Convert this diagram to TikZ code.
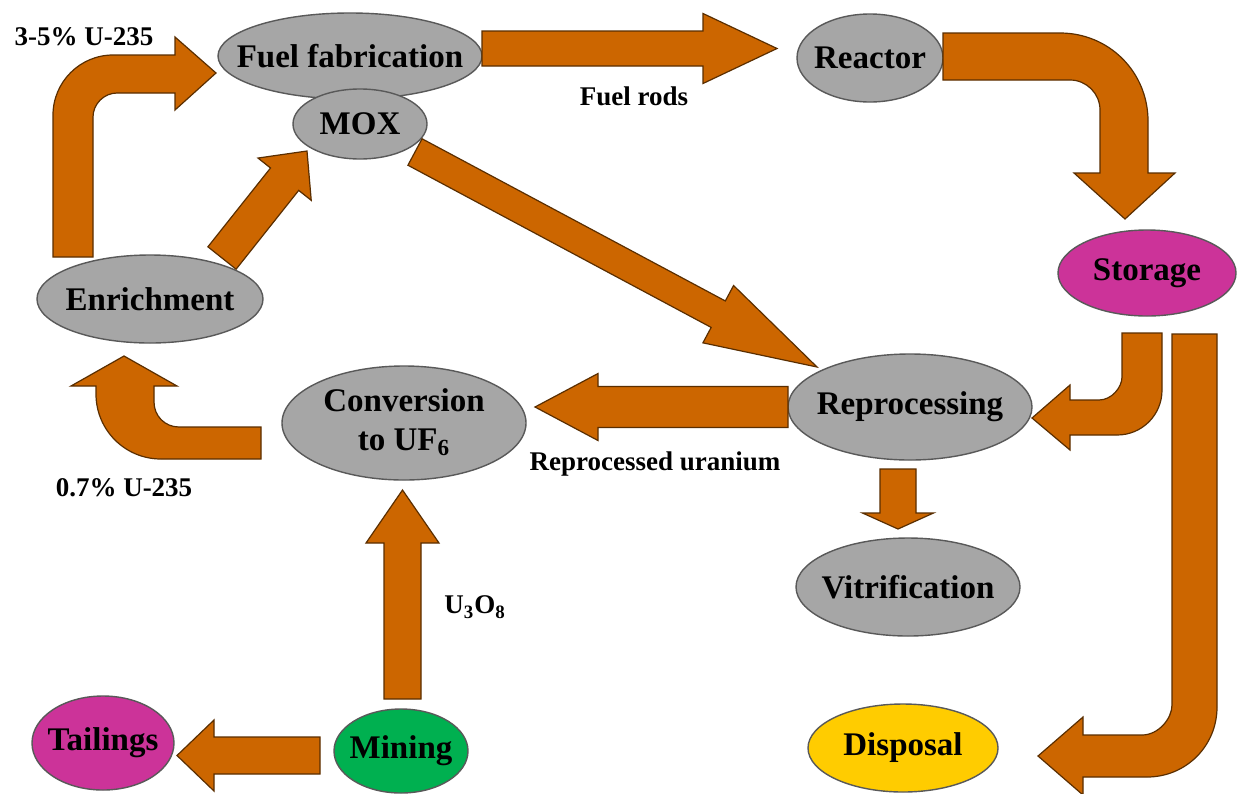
\documentclass[tikz,border=0pt]{standalone}
\usepackage{fontspec}
\setmainfont{Liberation Serif}
\usetikzlibrary{calc,shapes.geometric}
\definecolor{arrowfill}{HTML}{CC6600}
\definecolor{arrowline}{HTML}{5A2E00}
\definecolor{greyfill}{HTML}{A6A6A6}
\definecolor{greyline}{HTML}{595959}
\definecolor{magentafill}{HTML}{CC3399}
\definecolor{greenfill}{HTML}{00B050}
\definecolor{yellowfill}{HTML}{FFCC00}
\tikzset{
  stage/.style={ellipse, draw=greyline, line width=0.7pt, inner sep=0pt,
    font=\bfseries\fontsize{16.5}{19.5}\selectfont, text=black},
  arrowstyle/.style={fill=arrowfill, draw=arrowline, line width=0.6pt, line join=miter},
  flowlabel/.style={font=\bfseries\fontsize{13.5}{16}\selectfont, inner sep=0pt},
}
\newcommand\zw[1]{\makebox[0pt][c]{#1}}
% #1 tail, #2 tip, #3 half body width, #4 half head width, #5 head length
\newcommand\blockarrow[5]{%
  \path ($(#2)!#5!(#1)$) coordinate (ba-h);
  \draw[arrowstyle] ($(#1)!#3!90:(#2)$) -- ($(ba-h)!#3!-90:(#1)$) -- ($(ba-h)!#4!-90:(#1)$)
    -- (#2) -- ($(ba-h)!#4!90:(#1)$) -- ($(ba-h)!#3!90:(#1)$) -- ($(#1)!#3!-90:(#2)$) -- cycle;
}
\begin{document}
\begin{tikzpicture}[x=0.5pt,y=-0.5pt]
\path[use as bounding box, fill=white] (0,0) rectangle (1240,793);

% nodes
\node[stage, fill=greyfill, minimum width=132pt, minimum height=43pt] (fab) at (350,56) {\zw{Fuel fabrication}};
\node[stage, fill=greyfill, minimum width=67pt, minimum height=35pt] (mox) at (360,124) {\zw{MOX}};
\node[stage, fill=greyfill, minimum width=73pt, minimum height=44pt] (reactor) at (870,58) {\zw{Reactor}};
\node[stage, fill=magentafill, minimum width=89pt, minimum height=43pt] (storage) at (1147,273) {\zw{Storage}};
\node[stage, fill=greyfill, minimum width=122pt, minimum height=53pt] (repro) at (910,407) {\zw{Reprocessing}};
\node[stage, fill=greyfill, minimum width=112pt, minimum height=49pt] (vitri) at (908,587) {\zw{Vitrification}};
\node[stage, fill=yellowfill, minimum width=95pt, minimum height=44pt] (disposal) at (903,748) {\zw{Disposal}};
\node[stage, fill=greyfill, minimum width=122pt, minimum height=57pt] (conv) at (404,423)
  {\zw{\begin{tabular}{@{}c@{}}Conversion\\to UF\textsubscript{6}\end{tabular}}};
\node[stage, fill=greyfill, minimum width=113pt, minimum height=44pt] (enrich) at (150,299) {\zw{Enrichment}};
\node[stage, fill=greenfill, minimum width=67pt, minimum height=42pt] (mining) at (401,751) {\zw{Mining}};
\node[stage, fill=magentafill, minimum width=71pt, minimum height=47pt] (tailings) at (103,743) {\zw{Tailings}};

% straight block arrows
\coordinate (fr-s) at (482,48.5);  \coordinate (fr-e) at (777,48.5);
\coordinate (em-s) at (222,258);   \coordinate (em-e) at (307,151);
\coordinate (mr-s) at (415,152);   \coordinate (mr-e) at (817,367);
\coordinate (rc-s) at (788,407);   \coordinate (rc-e) at (535,407);
\coordinate (rv-s) at (898,469);   \coordinate (rv-e) at (898,529);
\coordinate (mc-s) at (402.5,699); \coordinate (mc-e) at (402.5,490);
\coordinate (mt-s) at (320,755.5); \coordinate (mt-e) at (177,755.5);
\blockarrow{fr-s}{fr-e}{8.75pt}{17.5pt}{37pt}
\blockarrow{em-s}{em-e}{9pt}{17pt}{18pt}
\blockarrow{mr-s}{mr-e}{7.5pt}{16.25pt}{56pt}
\blockarrow{rc-s}{rc-e}{10.25pt}{16.75pt}{31.5pt}
\blockarrow{rv-s}{rv-e}{9pt}{17.75pt}{8pt}
\blockarrow{mc-s}{mc-e}{9.25pt}{18.25pt}{26.5pt}
\blockarrow{mt-s}{mt-e}{9.25pt}{17.75pt}{18.5pt}

% bent block arrows
% Enrichment -> Fuel fabrication
\draw[arrowstyle] (53,257) -- (53,115) .. controls (53,82) and (80,55) .. (113,55) -- (175,55) -- (175,37)
  -- (216,73) -- (175,110) -- (175,93) -- (117,93) .. controls (104,93) and (93,104) .. (93,117) -- (93,257) -- cycle;
% Reactor -> Storage
\draw[arrowstyle] (943,33) -- (1060,33) .. controls (1109,33) and (1148,72) .. (1148,121) -- (1148,173) -- (1175,173)
  -- (1125,219) -- (1074,173) -- (1100,173) -- (1100,110) .. controls (1100,93.5) and (1086.5,80) .. (1070,80) -- (943,80) -- cycle;
% Storage -> Reprocessing
\draw[arrowstyle] (1122,333) -- (1162,333) -- (1162,390) .. controls (1162,415) and (1142,435) .. (1117,435) -- (1070,435)
  -- (1070,450) -- (1032,418) -- (1070,385) -- (1070,400) -- (1099,400) .. controls (1111.7,400) and (1122,387.3) .. (1122,377) -- cycle;
% Storage -> Disposal
\draw[arrowstyle] (1172,334) -- (1217,334) -- (1217,707) .. controls (1217,746) and (1186,777) .. (1147,777) -- (1083,777)
  -- (1083,795) -- (1038,756) -- (1083,717) -- (1083,735) -- (1142,735) .. controls (1158.6,735) and (1172,718.4) .. (1172,705) -- cycle;
% Conversion -> Enrichment
\draw[arrowstyle] (261,427) -- (261,459) -- (161,459) .. controls (125,459) and (96,430) .. (96,394) -- (96,386) -- (71,386)
  -- (124,356) -- (177,386) -- (154,386) -- (154,402) .. controls (154,416) and (165,427) .. (179,427) -- cycle;

% labels
\node[flowlabel] (l35) at (84,37) {3-5\% U-235};
\node[flowlabel] (lrods) at (634,96) {Fuel rods};
\node[flowlabel] (lru) at (655,464) {Reprocessed uranium};
\node[flowlabel] (l07) at (124,488) {0.7\% U-235};
\node[flowlabel] (lu3o8) at (475,607) {U\textsubscript{3}O\textsubscript{8}};
\end{tikzpicture}
\end{document}
